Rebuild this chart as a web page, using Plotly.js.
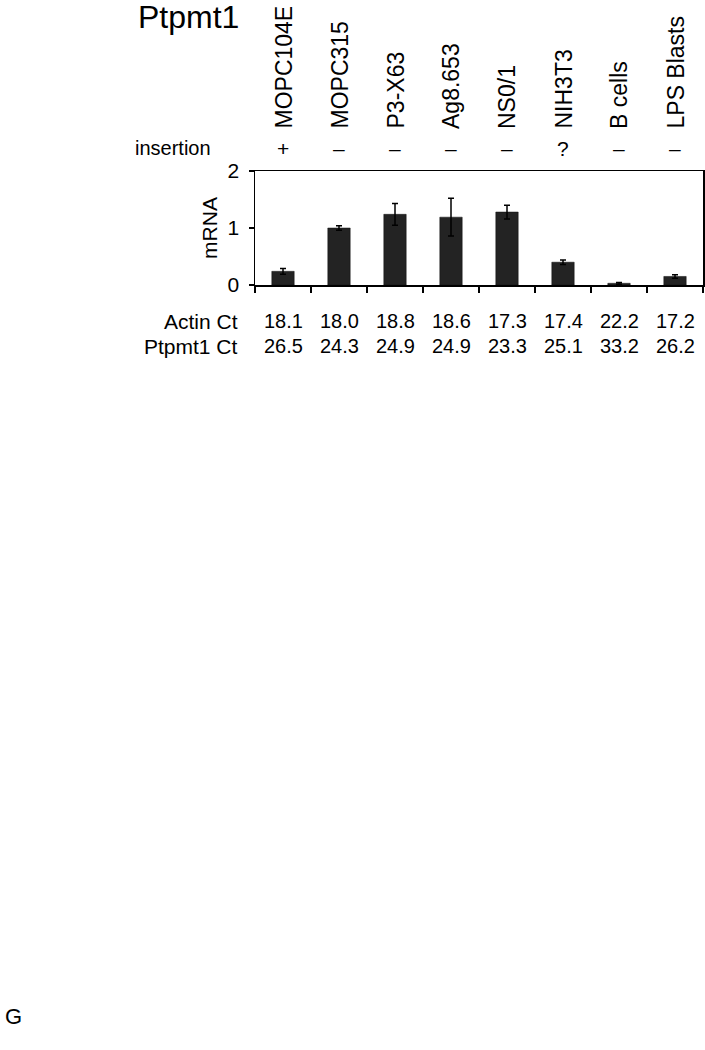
<!DOCTYPE html>
<html>
<head>
<meta charset="utf-8">
<script src="https://cdn.plot.ly/plotly-3.0.1.min.js"></script>
<style>
  html, body { margin: 0; padding: 0; background: #fff; }
  #plot { width: 705px; height: 1050px; }
</style>
</head>
<body>
<div id="plot"></div>
<script>
// Cell lines / samples
let samples = ["MOPC104E", "MOPC315", "P3-X63", "Ag8.653", "NS0/1", "NIH3T3", "B cells", "LPS Blasts"];
// relative Ptpmt1 mRNA and error
let mrna = [0.24, 1.0, 1.24, 1.19, 1.28, 0.40, 0.03, 0.15];
let mrnaErr = [0.05, 0.04, 0.19, 0.33, 0.12, 0.04, 0.015, 0.03];
// insertion status
let insertion = ["+", "–", "–", "–", "–", "?", "–", "–"];
// Ct values
let actinCt = ["18.1", "18.0", "18.8", "18.6", "17.3", "17.4", "22.2", "17.2"];
let ptpmt1Ct = ["26.5", "24.3", "24.9", "24.9", "23.3", "25.1", "33.2", "26.2"];

const FONT = "Liberation Sans, Arial, sans-serif";

// pixel -> paper helpers (plot area is 255..703 x 171..285)
const L = 255, R = 703, T = 171, B = 285;
function px(x) { return (x - L) / (R - L); }
function py(y) { return (B - y) / (B - T); }

let trace = {
  x: samples,
  y: mrna,
  type: "bar",
  marker: { color: "#232323", line: { color: "#111", width: 0.5 } },
  error_y: { type: "data", array: mrnaErr, visible: true, color: "#000", thickness: 1.5, width: 3 },
  hoverinfo: "none"
};

let annotations = [];

annotations.push({
  text: "Ptpmt1", xref: "paper", yref: "paper",
  x: px(136), y: py(17), xanchor: "left", yanchor: "middle",
  showarrow: false, font: { family: FONT, size: 32, color: "#000" }
});

annotations.push({
  text: "insertion", xref: "paper", yref: "paper",
  x: px(213), y: py(148), xanchor: "right", yanchor: "middle",
  showarrow: false, font: { family: FONT, size: 20, color: "#000" }
});
annotations.push({
  text: "Actin Ct", xref: "paper", yref: "paper",
  x: px(240), y: py(321), xanchor: "right", yanchor: "middle",
  showarrow: false, font: { family: FONT, size: 21, color: "#000" }
});
annotations.push({
  text: "Ptpmt1 Ct", xref: "paper", yref: "paper",
  x: px(240), y: py(346), xanchor: "right", yanchor: "middle",
  showarrow: false, font: { family: FONT, size: 21, color: "#000" }
});

for (let i in samples) {
  // rotated sample names
  annotations.push({
    text: samples[i], xref: "x", yref: "paper",
    x: samples[i], y: py(131), xanchor: "center", yanchor: "bottom",
    textangle: -90, showarrow: false,
    font: { family: FONT, size: 23, color: "#000" }
  });
  annotations.push({
    text: insertion[i], xref: "x", yref: "paper",
    x: samples[i], y: py(148), xanchor: "center", yanchor: "middle",
    showarrow: false, font: { family: FONT, size: 21, color: "#000" }
  });
  annotations.push({
    text: actinCt[i], xref: "x", yref: "paper",
    x: samples[i], y: py(321), xanchor: "center", yanchor: "middle",
    showarrow: false, font: { family: FONT, size: 20, color: "#000" }
  });
  annotations.push({
    text: ptpmt1Ct[i], xref: "x", yref: "paper",
    x: samples[i], y: py(346), xanchor: "center", yanchor: "middle",
    showarrow: false, font: { family: FONT, size: 20, color: "#000" }
  });
}

annotations.push({
  text: "G", xref: "paper", yref: "paper",
  x: px(3), y: py(1016), xanchor: "left", yanchor: "middle",
  showarrow: false, font: { family: FONT, size: 22, color: "#000" }
});

let layout = {
  width: 705,
  height: 1050,
  margin: { l: L, r: 705 - R, t: T, b: 1050 - B, pad: 0 },
  paper_bgcolor: "#fff",
  plot_bgcolor: "#fff",
  showlegend: false,
  bargap: 0.6,
  font: { family: FONT, size: 20, color: "#000" },
  xaxis: {
    type: "category",
    range: [-0.5, 7.5],
    showticklabels: false,
    ticks: "outside",
    tickson: "boundaries",
    ticklen: 6,
    tickwidth: 1.5,
    tickcolor: "#000",
    showline: true,
    linecolor: "#000",
    linewidth: 1.5,
    mirror: true,
    showgrid: false,
    zeroline: false,
    fixedrange: true
  },
  yaxis: {
    title: { text: "mRNA", font: { family: FONT, size: 21, color: "#000" }, standoff: 4 },
    range: [0, 2],
    dtick: 1,
    ticks: "outside",
    ticklen: 5,
    tickwidth: 1.5,
    tickcolor: "#000",
    ticklabelstandoff: 5,
    tickfont: { family: FONT, size: 21, color: "#000" },
    showline: true,
    linecolor: "#000",
    linewidth: 1.5,
    mirror: true,
    showgrid: false,
    zeroline: false,
    automargin: false,
    fixedrange: true
  },
  annotations: annotations
};

Plotly.newPlot("plot", [trace], layout, { staticPlot: true });
</script>
</body>
</html>
